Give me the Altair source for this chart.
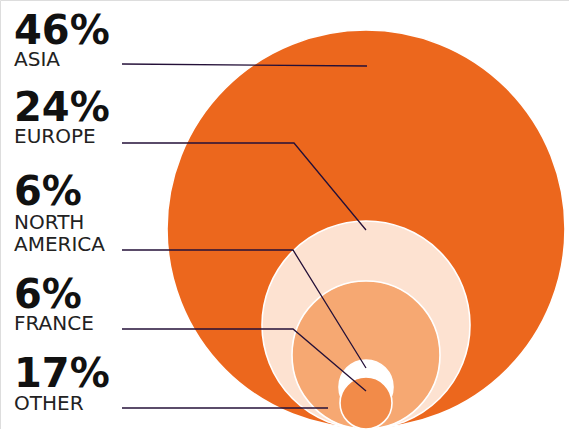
import altair as alt
import pandas as pd

# Bubble data (centre and radius in px)
regions = ["Asia", "Europe", "North America", "France", "Other"]
percents = ["46%", "24%", "6%", "6%", "17%"]
colors = ["#EC671D", "#FDE2D1", "#F6A872", "#FFFFFF", "#F28B49"]
cx = [366, 366, 366, 366, 366]
cy = [229, 325, 355, 387, 403]
radius = [199, 104, 74, 27, 26]

# label rows
pct_y = [44, 121, 205, 308, 387]
name_lines = [["ASIA"], ["EUROPE"], ["NORTH", "AMERICA"], ["FRANCE"], ["OTHER"]]
name_y = [[66], [143], [229, 251], [330], [410]]
label_x = 14

# leader lines (start, knee, end)
leader_x = [[122, 367], [122, 294, 366], [122, 293, 366], [122, 293, 366], [122, 328]]
leader_y = [[64, 66], [143, 143, 230], [250, 250, 368], [329, 329, 391], [408, 408]]

W, H = 569, 429
xs = alt.Scale(domain=[0, W], range=[0, W])
ys = alt.Scale(domain=[0, H], range=[0, H])

circ = pd.DataFrame({
    "region": regions, "x": cx, "y": cy,
    "size": [(2 * r) ** 2 for r in radius],
    "color": colors, "order": list(range(len(regions))),
})

rows = []
for i, reg in enumerate(regions):
    for j, (lx, ly) in enumerate(zip(leader_x[i], leader_y[i])):
        rows.append({"region": reg, "x": lx, "y": ly, "k": j})
lines = pd.DataFrame(rows)

pct_df = pd.DataFrame({"text": percents, "x": [label_x] * 5, "y": pct_y})
nrows = []
for i in range(len(regions)):
    for t, yy in zip(name_lines[i], name_y[i]):
        nrows.append({"text": t, "x": label_x, "y": yy})
name_df = pd.DataFrame(nrows)

X = lambda: alt.X("x:Q", scale=xs, axis=None)
Y = lambda: alt.Y("y:Q", scale=ys, axis=None)

circles = alt.Chart(circ).mark_circle(opacity=1, stroke="white", strokeWidth=1.6).encode(
    x=X(), y=Y(),
    size=alt.Size("size:Q", scale=None, legend=None),
    color=alt.Color("color:N", scale=None, legend=None),
    order=alt.Order("order:Q"),
)

leaders = alt.Chart(lines).mark_line(color="#241038", strokeWidth=1.3).encode(
    x=X(), y=Y(), detail="region:N", order="k:Q",
)

pct_text = alt.Chart(pct_df).mark_text(
    align="left", baseline="alphabetic", font="DejaVu Sans", fontWeight="bold",
    fontSize=40, color="#111111",
).encode(x=X(), y=Y(), text="text:N")

name_text = alt.Chart(name_df).mark_text(
    align="left", baseline="alphabetic", font="DejaVu Sans", fontWeight="normal",
    fontSize=20, color="#222222",
).encode(x=X(), y=Y(), text="text:N")

chart = alt.layer(circles, leaders, pct_text, name_text).properties(
    width=W, height=H, padding=0, autosize=alt.AutoSizeParams(type="none"),
).configure_view(stroke=None).configure(background="white")

chart.save("out.html", embed_options={"renderer": "svg", "actions": False})
